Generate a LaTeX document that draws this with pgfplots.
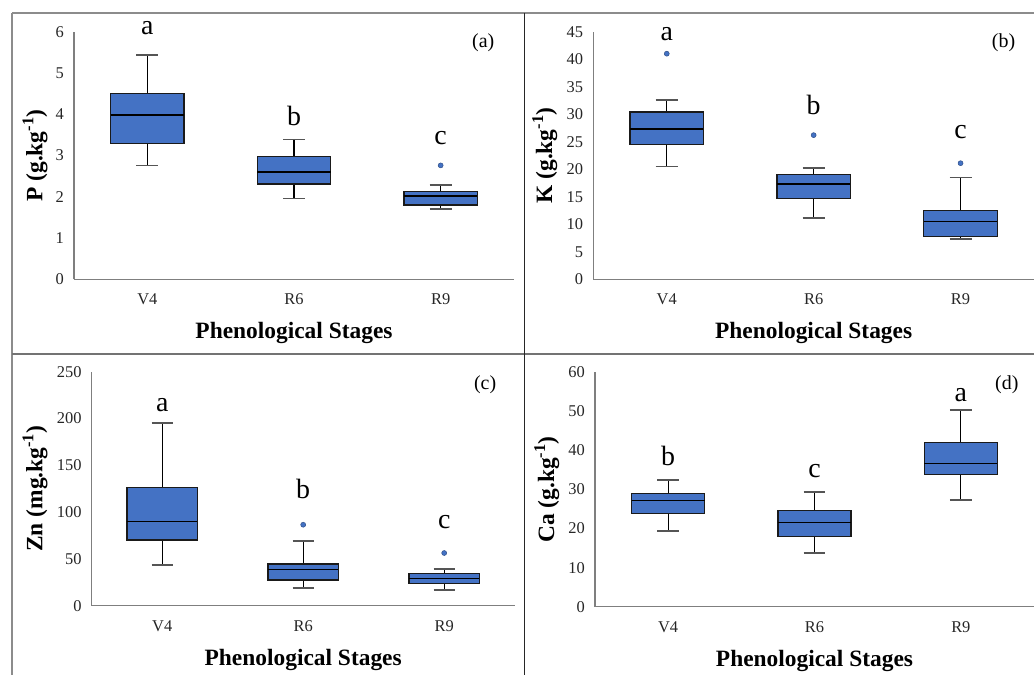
\documentclass[border=0pt]{standalone}
\usepackage{fontspec}
\setmainfont{Liberation Serif}
\usepackage{pgfplots}
\pgfplotsset{compat=1.18}
\usepgfplotslibrary{statistics}
\definecolor{boxblue}{HTML}{4472C4}
\definecolor{boxedge}{HTML}{1A1A1A}
\definecolor{axgray}{HTML}{7F7F7F}
\definecolor{capgray}{HTML}{555555}
\definecolor{framegray}{HTML}{8C8C8C}
\definecolor{divgray}{HTML}{737373}

\tikzset{
  letter/.style={font=\fontsize{28}{30}\selectfont, anchor=center, inner sep=0pt},
  tag/.style={font=\fontsize{20}{22}\selectfont, anchor=center, inner sep=0pt},
}
\pgfplotsset{
  panel/.style={
    scale only axis,
    xmin=-0.5, xmax=2.5, ymin=0,
    enlargelimits=false,
    axis x line=bottom, axis y line=left,
    axis line style={draw=axgray, line width=1.3bp, -},
    xtick={0,1,2}, xticklabels={V4,R6,R9},
    major tick length=0pt,
    /pgf/number format/assume math mode=true,
    tick label style={font=\fontsize{16.5}{18}\selectfont, text=black!85, inner sep=0pt},
    xticklabel style={anchor=north, yshift=-14.5bp},
    yticklabel style={anchor=east, xshift=-10bp},
    xlabel={\bfseries Phenological Stages},
    label style={font=\fontsize{23.5}{25}\selectfont, inner sep=0pt},
    clip=false,
    boxplot/draw direction=y,
    boxplot/box extend=0.5,
    boxplot/whisker extend=0.15,
    boxplot/every box/.style={fill=boxblue, draw=boxedge, line width=1.2bp},
    boxplot/every median/.style={draw=black, line width=1.3bp},
    boxplot/draw/lower whisker/.code={%
      \draw[black, line width=1.2bp]
        (boxplot cs:\pgfplotsboxplotvalue{lower whisker})
        -- (boxplot cs:\pgfplotsboxplotvalue{lower quartile});
      \draw[capgray, line width=1.8bp]
        (boxplot whisker cs:\pgfplotsboxplotvalue{lower whisker},0)
        -- (boxplot whisker cs:\pgfplotsboxplotvalue{lower whisker},1);
    },
    boxplot/draw/upper whisker/.code={%
      \draw[black, line width=1.2bp]
        (boxplot cs:\pgfplotsboxplotvalue{upper whisker})
        -- (boxplot cs:\pgfplotsboxplotvalue{upper quartile});
      \draw[capgray, line width=1.8bp]
        (boxplot whisker cs:\pgfplotsboxplotvalue{upper whisker},0)
        -- (boxplot whisker cs:\pgfplotsboxplotvalue{upper whisker},1);
    },
  },
  bx/.style={mark=*, mark size=2.5bp,
    mark options={fill=boxblue, draw=boxblue!70!black, line width=0.5bp},
    boxplot prepared={#1}},
}

\begin{document}
\begin{tikzpicture}
\path[use as bounding box] (0bp,0bp) rectangle (1034bp,675bp);

% frame lines
\draw[framegray, line width=1.5bp] (12bp,662bp) -- (1034bp,662bp);
\draw[framegray, line width=1.5bp] (12bp,662bp) -- (12bp,0bp);
\draw[divgray, line width=2bp] (12bp,321.3bp) -- (1034bp,321.3bp);
\draw[black!85, line width=1.5bp] (524.7bp,662bp) -- (524.7bp,0bp);

% (a) P
\begin{axis}[panel, at={(74bp,395.7bp)}, anchor=south west,
  width=440bp, height=247.6bp, ymax=6, ytick={0,1,2,3,4,5,6},
  ylabel={\bfseries P (g.kg\textsuperscript{-1})},
  ylabel style={at={(axis description cs:-0.0886,0.5)}, anchor=center},
  xlabel style={at={(axis description cs:0.5,-0.217)}, anchor=center}]
\addplot[bx={draw position=0, lower whisker=2.76, lower quartile=3.29, median=3.98, upper quartile=4.50, upper whisker=5.43}] coordinates {};
\addplot[bx={draw position=1, lower whisker=1.96, lower quartile=2.31, median=2.60, upper quartile=2.97, upper whisker=3.39}] coordinates {};
\addplot[bx={draw position=2, lower whisker=1.70, lower quartile=1.80, median=2.02, upper quartile=2.12, upper whisker=2.28}] table[row sep=\\, y index=0] {y\\ 2.76\\};
\node[letter] at (axis cs:0,6.08) {a};
\node[letter] at (axis cs:1,3.97) {b};
\node[letter] at (axis cs:2,3.43) {c};
\node[tag] at (rel axis cs:0.93,0.954) {(a)};
\end{axis}

% (b) K
\begin{axis}[panel, at={(593.3bp,395.7bp)}, anchor=south west,
  width=440.7bp, height=247.6bp, ymax=45, ytick={0,5,...,45},
  ylabel={\bfseries K (g.kg\textsuperscript{-1})},
  ylabel style={at={(axis description cs:-0.110,0.5)}, anchor=center},
  xlabel style={at={(axis description cs:0.5,-0.217)}, anchor=center}]
\addplot[bx={draw position=0, lower whisker=20.5, lower quartile=24.5, median=27.3, upper quartile=30.4, upper whisker=32.6}] table[row sep=\\, y index=0] {y\\ 41.0\\};
\addplot[bx={draw position=1, lower whisker=11.1, lower quartile=14.7, median=17.3, upper quartile=19.1, upper whisker=20.3}] table[row sep=\\, y index=0] {y\\ 26.2\\};
\addplot[bx={draw position=2, lower whisker=7.27, lower quartile=7.75, median=10.5, upper quartile=12.5, upper whisker=18.5}] table[row sep=\\, y index=0] {y\\ 21.1\\};
\node[letter] at (axis cs:0,44.5) {a};
\node[letter] at (axis cs:1,31.7) {b};
\node[letter] at (axis cs:2,26.7) {c};
\node[tag] at (rel axis cs:0.931,0.954) {(b)};
\end{axis}

% (c) Zn
\begin{axis}[panel, at={(91.7bp,69.3bp)}, anchor=south west,
  width=423bp, height=234bp, ymax=250, ytick={0,50,...,250},
  ylabel={\bfseries Zn (mg.kg\textsuperscript{-1})},
  ylabel style={at={(axis description cs:-0.134,0.5)}, anchor=center},
  xlabel style={at={(axis description cs:0.5,-0.232)}, anchor=center}]
\addplot[bx={draw position=0, lower whisker=43.1, lower quartile=70.2, median=89.7, upper quartile=126.4, upper whisker=195.5}] coordinates {};
\addplot[bx={draw position=1, lower whisker=18.9, lower quartile=27.4, median=38.8, upper quartile=44.5, upper whisker=69.1}] table[row sep=\\, y index=0] {y\\ 86.5\\};
\addplot[bx={draw position=2, lower whisker=16.7, lower quartile=23.5, median=29.2, upper quartile=34.2, upper whisker=39.5}] table[row sep=\\, y index=0] {y\\ 56.3\\};
\node[letter] at (axis cs:0,214) {a};
\node[letter] at (axis cs:1,124.3) {b};
\node[letter] at (axis cs:2,89.4) {c};
\node[tag] at (rel axis cs:0.93,0.943) {(c)};
\end{axis}

% (d) Ca
\begin{axis}[panel, at={(595bp,68.3bp)}, anchor=south west,
  width=439bp, height=234.4bp, ymax=60, ytick={0,10,...,60},
  ylabel={\bfseries Ca (g.kg\textsuperscript{-1})},
  ylabel style={at={(axis description cs:-0.110,0.5)}, anchor=center},
  xlabel style={at={(axis description cs:0.5,-0.230)}, anchor=center}]
\addplot[bx={draw position=0, lower whisker=19.3, lower quartile=23.8, median=27.1, upper quartile=29.0, upper whisker=32.4}] coordinates {};
\addplot[bx={draw position=1, lower whisker=13.7, lower quartile=17.9, median=21.5, upper quartile=24.6, upper whisker=29.4}] coordinates {};
\addplot[bx={draw position=2, lower whisker=27.4, lower quartile=33.9, median=36.7, upper quartile=42.0, upper whisker=50.4}] coordinates {};
\node[letter] at (axis cs:0,38.7) {b};
\node[letter] at (axis cs:1,34.7) {c};
\node[letter] at (axis cs:2,54.2) {a};
\node[tag] at (rel axis cs:0.938,0.946) {(d)};
\end{axis}
\end{tikzpicture}
\end{document}
